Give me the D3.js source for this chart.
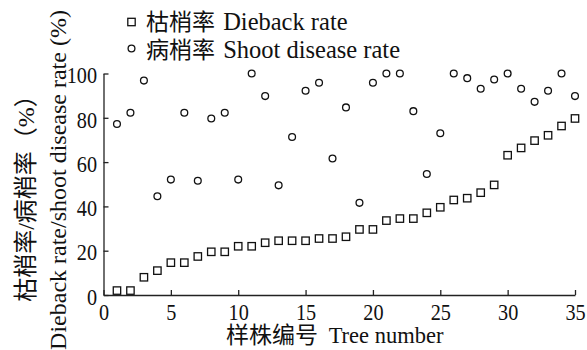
<!DOCTYPE html>
<meta charset="utf-8">
<style>
body { margin: 0; background: #fff; }
svg { display: block; }
text { font-family: "Liberation Serif", "Noto Sans CJK SC", serif; fill: #111; }
.cjk { font-family: "Noto Sans CJK SC", sans-serif; }
.axis path, .axis line { stroke: #222; stroke-width: 1.3px; }
.axis text { font-size: 23px; font-family: "Liberation Serif", serif; fill: #111; }
.mark { fill: #fff; stroke: #111; stroke-width: 1.3px; }
</style>
<svg width="587" height="350"></svg>
<script src="https://d3js.org/d3.v7.min.js"></script>
<script>

// tree number 1..35
var trees = d3.range(1, 36);

// dieback rate (%)
var dieback = [2, 2, 8, 11, 14.6, 14.6, 17.4, 19.5, 19.5, 22, 22,
               23.6, 24.5, 24.5, 24.5, 25.5, 25.5, 26.3, 29.6, 29.6, 33.6, 34.5, 34.5,
               37.1, 39.6, 42.9, 43.7, 46.2, 49.7, 63.1, 66.4, 69.7, 72.1, 76.3, 79.7];

// shoot disease rate (%)
var shoot = [77.2, 82.3, 96.8, 44.6, 52.1, 82.3, 51.6, 79.7, 82.3, 52.1, 100,
             89.8, 49.5, 71.3, 92.2, 95.8, 61.6, 84.7, 41.6, 95.8, 100, 100, 83,
             54.6, 73, 100, 97.9, 93.1, 97.3, 100, 93.1, 87.2, 92.2, 100, 89.8];

var xTicks = [0, 5, 10, 15, 20, 25, 30, 35];
var yTicks = [0, 20, 40, 60, 80, 100];

var svg = d3.select("svg");

var x = d3.scaleLinear().domain([0, 35]).range([103.5, 575]);
var y = d3.scaleLinear().domain([0, 100]).range([295, 73.5]);

// the digits in the original are a bit narrow for their height
var squeeze = 0.88;

svg.append("g")
    .attr("class", "axis")
    .attr("transform", "translate(0,295)")
    .call(d3.axisBottom(x).tickValues(xTicks).tickSizeInner(-5).tickSizeOuter(0).tickPadding(8.5))
  .selectAll("text")
    .attr("transform", "scale(" + squeeze + ",1)");

svg.append("g")
    .attr("class", "axis")
    .attr("transform", "translate(103.5,0)")
    .call(d3.axisLeft(y).tickValues(yTicks).tickSizeInner(-5).tickSizeOuter(0))
  .selectAll("text")
    .attr("x", -6.5 / squeeze)
    .attr("dy", "0.4em")
    .attr("transform", "scale(" + squeeze + ",1)");

// dieback squares
svg.append("g").selectAll("rect")
  .data(trees)
  .enter().append("rect")
    .attr("class", "mark")
    .attr("x", function(d) { return x(d) - 3.7; })
    .attr("y", function(d, i) { return y(dieback[i]) - 3.7; })
    .attr("width", 7.4)
    .attr("height", 7.4);

// shoot disease circles
svg.append("g").selectAll("circle")
  .data(trees)
  .enter().append("circle")
    .attr("class", "mark")
    .attr("cx", function(d) { return x(d); })
    .attr("cy", function(d, i) { return y(shoot[i]); })
    .attr("r", 3.4);

// legend
var legend = svg.append("g");
legend.append("rect").attr("class", "mark")
    .attr("x", 127.8).attr("y", 18.3).attr("width", 7.4).attr("height", 7.4);
legend.append("circle").attr("class", "mark")
    .attr("cx", 131.5).attr("cy", 48.5).attr("r", 3.4);

var rows = [["枯梢率", " Dieback rate", 30.3], ["病梢率", " Shoot disease rate", 57.5]];
rows.forEach(function(r) {
  var t = legend.append("text").attr("x", 146).attr("y", r[2]);
  t.append("tspan").attr("class", "cjk").style("font-size", "23px").text(r[0]);
  t.append("tspan").attr("dx", 2).style("font-size", "24.5px").text(r[1]);
});

// axis titles
var xt = svg.append("text")
    .attr("x", 226).attr("y", 343);
xt.append("tspan").attr("class", "cjk").style("font-size", "23px").text("样株编号");
xt.append("tspan").attr("dx", 5).style("font-size", "22.5px").text(" Tree number");

svg.append("text")
    .attr("transform", "translate(34,192.5) rotate(-90)")
    .attr("text-anchor", "middle")
    .style("font-size", "24px")
    .text("枯梢率/病梢率（%）");

svg.append("text")
    .attr("transform", "translate(66,180) rotate(-90)")
    .attr("text-anchor", "middle")
    .style("font-size", "24px")
    .text("Dieback rate/shoot disease rate (%)");

</script>
